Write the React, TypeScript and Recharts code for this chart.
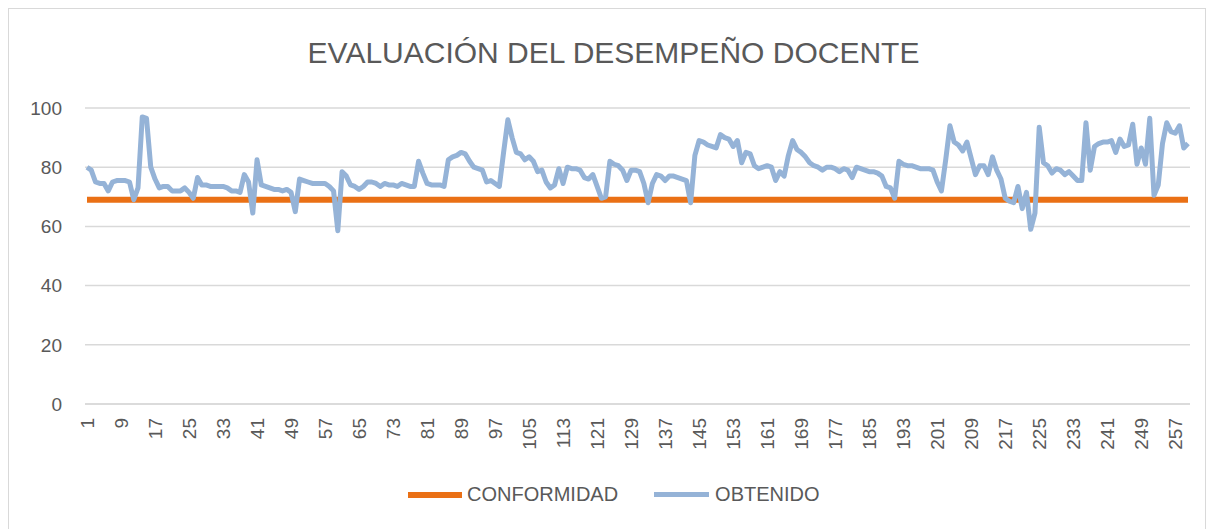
import { LineChart, Line, XAxis, YAxis, CartesianGrid } from 'recharts';

// Valores (260 docentes)
const obtenido = [
  80, 79, 75, 74.5, 74.5, 72, 75, 75.5, 75.5, 75.5,
  75, 69, 73, 97, 96.5, 80, 76, 73, 73.5, 73.5,
  72, 72, 72, 73, 71.5, 69.5, 76.5, 74, 74, 73.5,
  73.5, 73.5, 73.5, 73, 72, 72, 71.5, 77.5, 75, 64.5,
  82.5, 74, 73.5, 73, 72.5, 72.5, 72, 72.5, 71.5, 65,
  76, 75.5, 75, 74.5, 74.5, 74.5, 74.5, 73.5, 72, 58.5,
  78.5, 77, 74, 73.5, 72.5, 73.5, 75, 75, 74.5, 73.5,
  74.5, 74, 74, 73.5, 74.5, 74, 73.5, 73.5, 82, 78,
  74.5, 74, 74, 74, 73.5, 82.5, 83.5, 84, 85, 84.5,
  82, 80, 79.5, 79, 75, 75.5, 74.5, 73.5, 85, 96,
  90, 85, 84.5, 82.5, 83.5, 82, 78.5, 79, 75, 73,
  74, 79.5, 74.5, 80, 79.5, 79.5, 79, 76.5, 76, 77.5,
  73.5, 69.5, 70, 82, 81, 80.5, 79, 75.5, 79, 79,
  78.5, 74.5, 68, 74.5, 77.5, 77, 75.5, 77, 77, 76.5,
  76, 75.5, 68, 84, 89, 88.5, 87.5, 87, 86.5, 91,
  90, 89.5, 87, 89, 81.5, 85, 84.5, 80.5, 79.5, 80,
  80.5, 80, 75.5, 78.5, 77, 84, 89, 86, 85, 83.5,
  81.5, 80.5, 80, 79, 80, 80, 79.5, 78.5, 79.5, 79,
  76.5, 80, 79.5, 79, 78.5, 78.5, 78, 77, 73.5, 73,
  69.5, 82, 81, 80.5, 80.5, 80, 79.5, 79.5, 79.5, 79,
  75, 72, 82.5, 94, 88.5, 87.5, 85.5, 88.5, 83, 77.5,
  80.5, 80.5, 77.5, 83.5, 79, 76, 69.5, 68.5, 68, 73.5,
  66, 71.5, 59, 64.5, 93.5, 81.5, 80.5, 78, 79.5, 79,
  77.5, 78.5, 77, 75.5, 75.5, 95, 79, 87, 88, 88.5,
  88.5, 89, 85, 89.5, 87, 87.5, 94.5, 81, 86.5, 81,
  96.5, 70.5, 74, 88, 95, 92, 91.5, 94, 86.5, 88,
];

const CONFORMIDAD = 69;
const yTicks = [0, 20, 40, 60, 80, 100];

const data = obtenido.map((v, i) => ({
  n: i + 1,
  conformidad: CONFORMIDAD,
  obtenido: v,
}));

const ORANGE = '#EA7015';
const BLUE = '#95B3D7';
const TEXT = '#595959';
const FONT = '"Liberation Sans", Arial, sans-serif';

const XTick = (props: any) => {
  const { x, y, payload } = props;
  return (
    <text
      transform={`translate(${x + 7},${y}) rotate(-90)`}
      textAnchor="end"
      fill={TEXT}
      fontSize={19}
      fontFamily={FONT}
    >
      {payload.value}
    </text>
  );
};

export default function App() {
  return (
    <div
      style={{
        position: 'relative',
        width: 1196,
        height: 520,
        border: '1px solid #d9d9d9',
        background: '#fff',
        fontFamily: FONT,
      }}
    >
      <div
        style={{
          position: 'absolute',
          top: 26,
          left: 0,
          width: 1196,
          paddingLeft: 13,
          boxSizing: 'border-box',
          textAlign: 'center',
          fontSize: 30,
          color: TEXT,
          lineHeight: '36px',
        }}
      >
        EVALUACIÓN DEL DESEMPEÑO DOCENTE
      </div>
      <LineChart
        width={1196}
        height={520}
        data={data}
        margin={{ top: 99, right: 15, left: 0, bottom: 65 }}
      >
        <CartesianGrid vertical={false} stroke="#d9d9d9" strokeWidth={1.5} />
        <XAxis
          dataKey="n"
          interval={7}
          height={60}
          padding={{ left: 2, right: 2 }}
          tickLine={false}
          tickSize={0}
          tickMargin={14}
          axisLine={{ stroke: '#d9d9d9', strokeWidth: 1.5 }}
          tick={<XTick />}
        />
        <YAxis
          width={76}
          domain={[0, 100]}
          ticks={yTicks}
          axisLine={false}
          tickLine={false}
          tickMargin={17}
          tick={{ fill: TEXT, fontSize: 19, fontFamily: FONT }}
        />
        <Line
          type="linear"
          dataKey="conformidad"
          stroke={ORANGE}
          strokeWidth={6}
          dot={false}
          isAnimationActive={false}
        />
        <Line
          type="linear"
          dataKey="obtenido"
          stroke={BLUE}
          strokeWidth={5}
          strokeLinejoin="round"
          dot={false}
          isAnimationActive={false}
        />
      </LineChart>
      <div
        style={{
          position: 'absolute',
          top: 474,
          left: 0,
          width: 1196,
          display: 'flex',
          alignItems: 'center',
          fontSize: 20,
          color: TEXT,
        }}
      >
        <span style={{ marginLeft: 399, width: 54, height: 6, background: ORANGE, display: 'inline-block' }} />
        <span style={{ marginLeft: 5 }}>CONFORMIDAD</span>
        <span style={{ marginLeft: 36, width: 55, height: 5, background: BLUE, display: 'inline-block' }} />
        <span style={{ marginLeft: 6 }}>OBTENIDO</span>
      </div>
    </div>
  );
}
